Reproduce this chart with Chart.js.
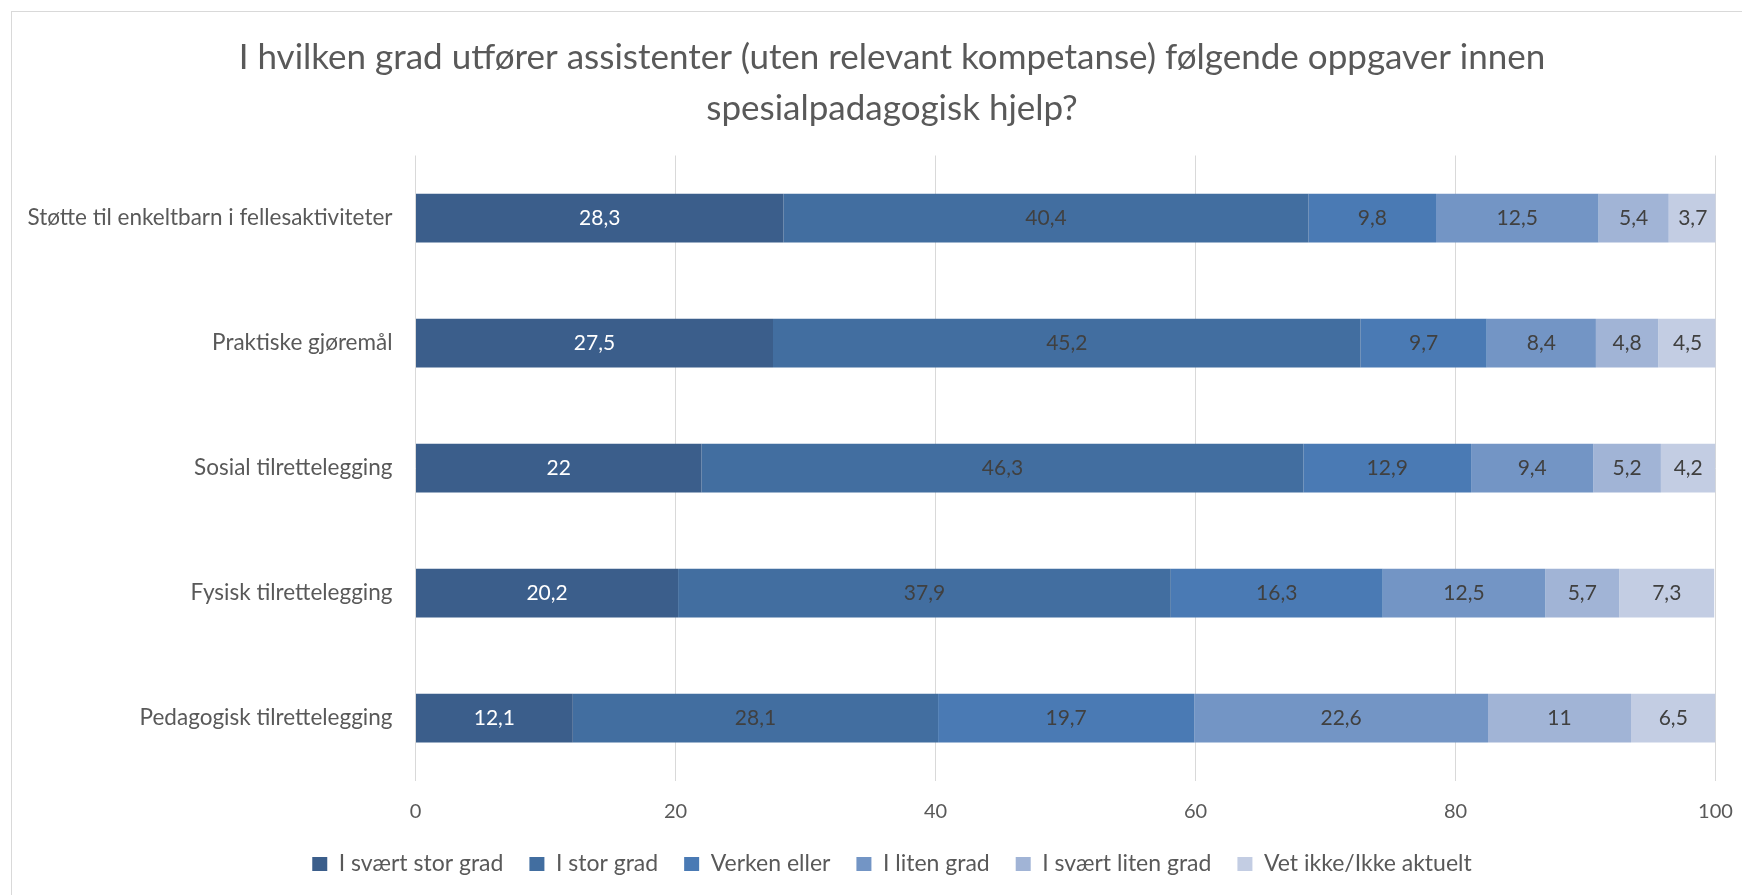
<!DOCTYPE html>
<html>
<head>
<meta charset="utf-8">
<script src="https://cdn.jsdelivr.net/npm/chart.js@4"></script>
<style>
  html, body { margin: 0; padding: 0; background: #fff; overflow: hidden; }
  #frame { position: absolute; left: 11px; top: 11px; width: 1762px; height: 900px; border: 1px solid #d9d9d9; }
  #wrap { position: absolute; left: 0; top: 0; width: 1784px; height: 895px; }
</style>
</head>
<body>
<div id="frame"></div>
<div id="wrap"><canvas id="assistChart" width="1784" height="895"></canvas></div>
<script>
// Oppgaver (kategorier på y-aksen)
const tasks = [
  "Støtte til enkeltbarn i fellesaktiviteter",
  "Praktiske gjøremål",
  "Sosial tilrettelegging",
  "Fysisk tilrettelegging",
  "Pedagogisk tilrettelegging",
];

// Svaralternativer
const answers = [
  "I svært stor grad",
  "I stor grad",
  "Verken eller",
  "I liten grad",
  "I svært liten grad",
  "Vet ikke/Ikke aktuelt",
];

// Prosentandeler per svaralternativ, i samme rekkefølge som tasks
const svaertStorGrad = [28.3, 27.5, 22, 20.2, 12.1];
const storGrad = [40.4, 45.2, 46.3, 37.9, 28.1];
const verkenEller = [9.8, 9.7, 12.9, 16.3, 19.7];
const litenGrad = [12.5, 8.4, 9.4, 12.5, 22.6];
const svaertLitenGrad = [5.4, 4.8, 5.2, 5.7, 11];
const vetIkke = [3.7, 4.5, 4.2, 7.3, 6.5];

const xTicks = [0, 20, 40, 60, 80, 100];

const seriesValues = [svaertStorGrad, storGrad, verkenEller, litenGrad, svaertLitenGrad, vetIkke];
const colors = ["#3b5e8b", "#426ea0", "#4a7ab4", "#7395c5", "#a1b4d6", "#c3cde3"];
const labelColors = ["#ffffff", "#404040", "#404040", "#404040", "#404040", "#404040"];

const FONT = "Lato, 'Open Sans', sans-serif";

// Skriver verdien midt i hvert stolpesegment
const valueLabels = {
  id: "valueLabels",
  afterDatasetsDraw(chart) {
    const ctx = chart.ctx;
    ctx.save();
    ctx.font = "21px " + FONT;
    ctx.textAlign = "center";
    ctx.textBaseline = "middle";
    chart.data.datasets.forEach((ds, i) => {
      const meta = chart.getDatasetMeta(i);
      meta.data.forEach((bar, j) => {
        const p = bar.getCenterPoint();
        ctx.fillStyle = labelColors[i];
        ctx.fillText(String(ds.data[j]).replace(".", ","), p.x, p.y);
      });
    });
    ctx.restore();
  },
};

const ctx = document.getElementById("assistChart").getContext("2d");
new Chart(ctx, {
  type: "bar",
  data: {
    labels: tasks,
    datasets: answers.map((name, i) => ({
      label: name,
      data: seriesValues[i],
      backgroundColor: colors[i],
      borderWidth: 0,
      categoryPercentage: 1,
      barPercentage: 0.39,
    })),
  },
  options: {
    indexAxis: "y",
    responsive: false,
    animation: false,
    layout: { padding: { left: 68.5, right: 68.5, top: 0, bottom: 9.5 } },
    plugins: {
      title: {
        display: true,
        text: [
          "I hvilken grad utfører assistenter (uten relevant kompetanse) følgende oppgaver innen",
          "spesialpadagogisk hjelp?",
        ],
        color: "#595959",
        font: { family: FONT, size: 35, weight: "normal", lineHeight: 1.45 },
        padding: { top: 32.5, bottom: 21.5 },
      },
      legend: {
        position: "bottom",
        labels: {
          color: "#595959",
          font: { family: FONT, size: 23 },
          boxWidth: 15,
          boxHeight: 14,
          padding: 26,
        },
      },
      tooltip: { enabled: false },
    },
    scales: {
      x: {
        stacked: true,
        min: 0,
        max: 100,
        afterBuildTicks(scale) {
          scale.ticks = xTicks.map((v) => ({ value: v }));
        },
        afterFit(scale) {
          scale.height = 46;
        },
        grid: { color: "#d9d9d9", drawTicks: false },
        border: { display: false },
        ticks: { color: "#595959", font: { family: FONT, size: 20 }, padding: 19 },
      },
      y: {
        stacked: true,
        afterFit(scale) {
          scale.width = 347;
          // den lengste etiketten går ut over venstre marg, så ikke klipp den
          scale._computeLabelArea = () => undefined;
        },
        grid: { display: false },
        border: { display: false },
        ticks: { color: "#595959", font: { family: FONT, size: 22.5 }, padding: 15 },
      },
    },
  },
  plugins: [valueLabels],
});
</script>
</body>
</html>
